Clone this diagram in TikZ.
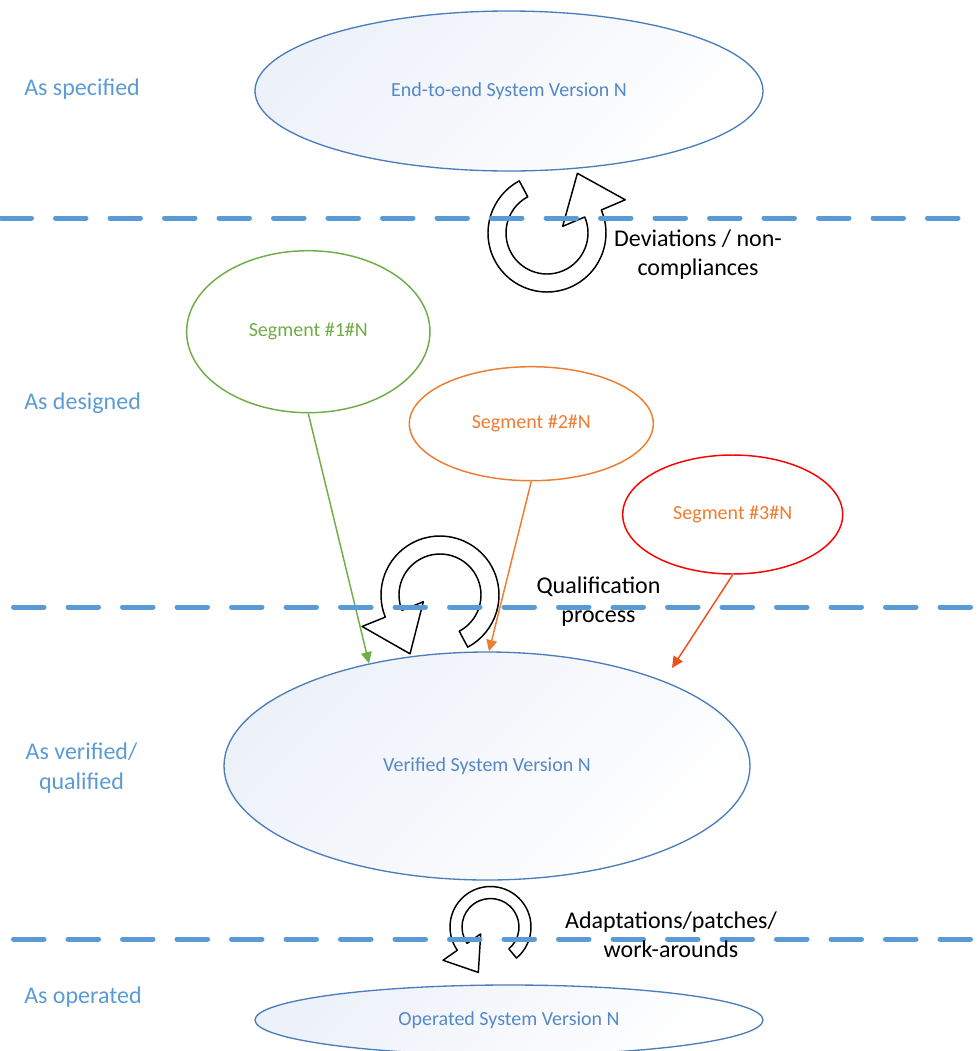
\documentclass[tikz,border=0pt]{standalone}
\usepackage{fontspec}
\setmainfont{Carlito}
\usetikzlibrary{shapes.geometric,arrows.meta}
\definecolor{dashblue}{RGB}{91,155,213}
\definecolor{lblblue}{RGB}{91,155,213}
\definecolor{ellblue}{RGB}{74,126,187}
\definecolor{elltext}{RGB}{84,137,198}
\definecolor{gradc}{RGB}{237,241,249}
\definecolor{seggreen}{RGB}{112,173,71}
\definecolor{segorange}{RGB}{237,125,49}
\definecolor{segred}{RGB}{255,0,0}
\definecolor{arrred}{RGB}{240,80,30}
\newcommand\cyclearrow[9]{%
  \begin{scope}[shift={#1}, yscale=-1]
    \draw[cyc] (#4:#3) arc[start angle=#4, end angle=#5, radius=#3] -- (#5:#7) -- (#8:#9) -- (#5:#6) -- (#5:#2) arc[start angle=#5, end angle=#4, radius=#2] -- cycle;
  \end{scope}}
\begin{document}
\begin{tikzpicture}[x=0.75pt,y=-0.75pt,
  sysell/.style={ellipse, draw=ellblue, line width=1pt, top color=gradc, bottom color=white, shading angle=45, text=elltext, font=\fontsize{15}{18}\selectfont, inner sep=0pt},
  segell/.style={ellipse, line width=1.1pt, fill=white, font=\fontsize{15}{18}\selectfont, inner sep=0pt},
  lvl/.style={text=lblblue, font=\fontsize{18}{22.5}\selectfont, inner sep=0pt},
  note/.style={text=black, font=\fontsize{18}{21.75}\selectfont, inner sep=0pt, align=center},
  sep/.style={draw=dashblue, line width=3.75pt, line cap=round, dash pattern=on 22.875pt off 18pt},
  link/.style={line width=1.1pt, -{Triangle[length=8.5pt,width=8pt]}},
  cyc/.style={draw=black, line width=1.1pt, line join=round},
]
\useasboundingbox (0,0) rectangle (977,1051);

% system ellipses
\node[sysell, minimum width=381pt, minimum height=120pt] (spec) at (509,91) {End-to-end System Version N};
\node[sysell, minimum width=394.5pt, minimum height=171pt] (ver) at (487,766) {Verified System Version N};
\node[sysell, minimum width=381pt, minimum height=52.5pt] (ops) at (509,1020) {Operated System Version N};

% segments
\node[segell, draw=seggreen, text=seggreen, minimum width=182.5pt, minimum height=121.5pt] (seg1) at (308.3,331.7) {Segment \#1\#N};
\node[segell, draw=segorange, text=segorange, minimum width=183pt, minimum height=85.5pt] (seg2) at (531.3,423.7) {Segment \#2\#N};
\node[segell, draw=segred, text=segorange, minimum width=165pt, minimum height=89.25pt] (seg3) at (732.7,514.5) {Segment \#3\#N};

% connectors
\coordinate (redend) at (672,668);
\draw[link, color=seggreen] (seg1.south) -- (ver.139.6);
\draw[link, color=segorange] (seg2.south) -- (ver.89);
\draw[link, color=arrred] (seg3.south) -- (redend);

% circular arrows
\cyclearrow{(547,233)}{41}{59}{118}{383}{17}{85}{423}{67}
\cyclearrow{(440,595)}{41}{59}{298}{562}{18}{84}{603}{66}
\cyclearrow{(490.5,927)}{28.5}{40.5}{310}{575}{12}{58}{615}{47}

% separators
\draw[sep] (1,218) -- (958.5,218);
\draw[sep] (13.5,607) -- (970.5,607);
\draw[sep] (13.5,939) -- (970.5,939);

% level labels
\node[lvl, anchor=base west] (l1) at (24,95) {As specified};
\node[lvl, anchor=base west] (l2) at (24,409) {As designed};
\node[lvl, align=center] (l3) at (81.5,768.5) {As verified/\\qualified};
\node[lvl, anchor=base west] (l4) at (24,1003) {As operated};

% notes
\node[note] (n1) at (698,255) {Deviations / non-\\compliances};
\node[note] (n2) at (598.5,602) {Qualification\\process};
\node[note] (n3) at (671,935) {Adaptations/patches/\\work-arounds};
\end{tikzpicture}
\end{document}
